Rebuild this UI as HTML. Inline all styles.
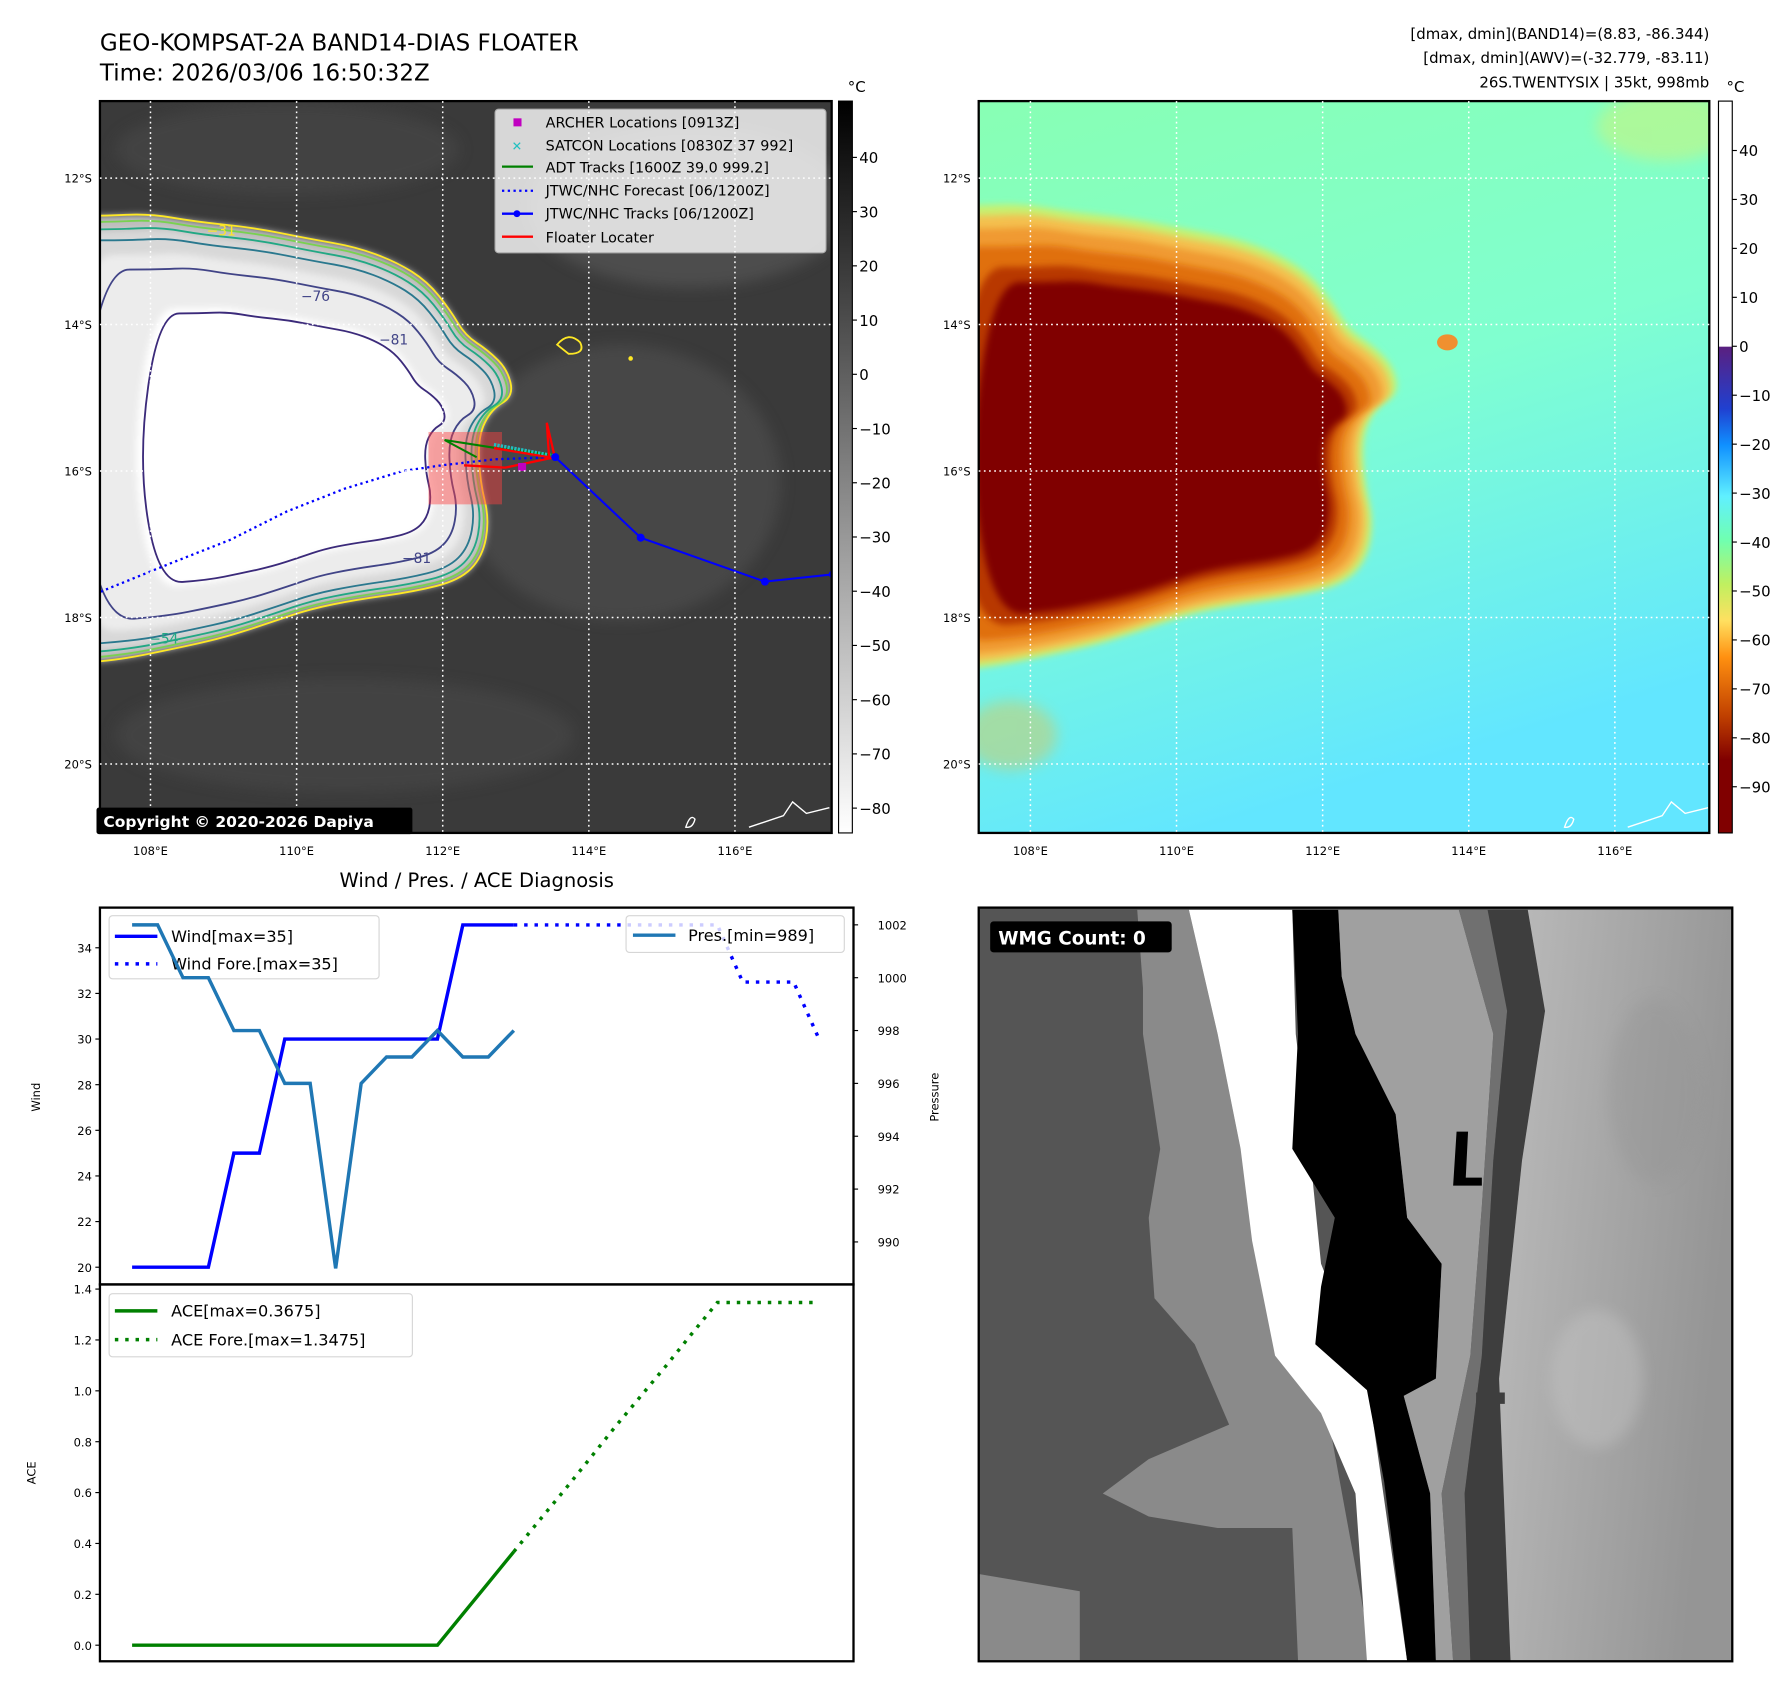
<!DOCTYPE html>
<html><head><meta charset="utf-8">
<style>
html,body{margin:0;padding:0;background:#fff;}
svg{display:block;font-family:"DejaVu Sans","Liberation Sans",sans-serif;}
</style></head>
<body>
<svg id="root" width="1792" height="1690" viewBox="0 0 1560 1471" preserveAspectRatio="none" xmlns="http://www.w3.org/2000/svg">
<defs>
 <filter id="blur3"><feGaussianBlur stdDeviation="6"/></filter>
 <filter id="blur1"><feGaussianBlur stdDeviation="3"/></filter>
 <linearGradient id="gcb" x1="0" y1="0" x2="0" y2="1"><stop offset="0" stop-color="#000"/><stop offset="1" stop-color="#fff"/></linearGradient>
 <linearGradient id="jetcb" x1="0" y1="0" x2="0" y2="1">
  <stop offset="0" stop-color="#fff"/><stop offset="0.335" stop-color="#fff"/>
  <stop offset="0.336" stop-color="#5a2080"/><stop offset="0.42" stop-color="#2040d0"/><stop offset="0.47" stop-color="#1090ff"/>
  <stop offset="0.54" stop-color="#60f0ff"/><stop offset="0.6" stop-color="#70ffb0"/><stop offset="0.66" stop-color="#c0f060"/>
  <stop offset="0.71" stop-color="#ffe060"/><stop offset="0.76" stop-color="#ff9010"/><stop offset="0.84" stop-color="#c04000"/>
  <stop offset="0.9" stop-color="#800000"/><stop offset="1" stop-color="#800000"/></linearGradient>
 <linearGradient id="bg2" x1="0" y1="0" x2="0.3" y2="1"><stop offset="0" stop-color="#88ffb4"/><stop offset="0.5" stop-color="#80ffd0"/><stop offset="1" stop-color="#62e6ff"/></linearGradient>
 <linearGradient id="tex" x1="0" y1="0" x2="1" y2="0.3"><stop offset="0" stop-color="#bcbcbc"/><stop offset="0.5" stop-color="#a8a8a8"/><stop offset="1" stop-color="#959595"/></linearGradient>
 <clipPath id="c1"><rect x="87" y="88" width="637" height="637"/></clipPath>
 <clipPath id="c2"><rect x="852" y="88" width="636" height="637"/></clipPath>
 <clipPath id="c3"><rect x="852" y="790" width="656" height="656"/></clipPath>
</defs>

<text x="87" y="44" font-size="20">GEO-KOMPSAT-2A BAND14-DIAS FLOATER</text>
<text x="87" y="70" font-size="20">Time: 2026/03/06 16:50:32Z</text>
<g font-size="13" text-anchor="end">
 <text x="1488" y="34">[dmax, dmin](BAND14)=(8.83, -86.344)</text>
 <text x="1488" y="55">[dmax, dmin](AWV)=(-32.779, -83.11)</text>
 <text x="1488" y="76">26S.TWENTYSIX | 35kt, 998mb</text>
</g>

<g clip-path="url(#c1)">
 <rect x="87" y="88" width="637" height="637" fill="#3a3a3a"/>
 <g filter="url(#blur3)" opacity="0.5">
  <ellipse cx="600" cy="180" rx="140" ry="70" fill="#606060"/>
  <ellipse cx="540" cy="420" rx="140" ry="120" fill="#555"/>
  <ellipse cx="300" cy="640" rx="200" ry="50" fill="#4c4c4c"/>
  <ellipse cx="250" cy="130" rx="150" ry="40" fill="#4c4c4c"/>
 </g>
 <g id="cloud1"></g>
 <g id="contours1" fill="none" stroke-width="1.6"></g>
 <rect x="373" y="376" width="64" height="63" fill="#ff4040" opacity="0.45"/>
 <g id="tracks1"></g>
 <path d="M597,720 q4,-12 8,-7 q-2,8 -8,7z M652,720 l30,-10 l8,-12 l12,10 l20,-5" fill="none" stroke="#fff" stroke-width="1.2"/>
</g>
<rect x="87" y="88" width="637" height="637" fill="none" stroke="#000" stroke-width="2"/>
<g id="grid1"></g>
<g><rect x="84" y="703" width="275" height="23" fill="#000" rx="2"/><text x="90" y="720" fill="#fff" font-size="13.5" font-weight="bold">Copyright © 2020-2026 Dapiya</text></g>

<g font-size="12.5">
 <rect x="431" y="95" width="288" height="125" fill="#fff" opacity="0.8" stroke="#ccc" rx="3"/>
 <rect x="447" y="103" width="7" height="7" fill="#c000c0"/><text x="475" y="111">ARCHER Locations [0913Z]</text>
 <text x="450" y="131" fill="#20c0c0" text-anchor="middle" font-size="11" font-weight="bold">✕</text><text x="475" y="131">SATCON Locations [0830Z 37 992]</text>
 <line x1="437" y1="145" x2="464" y2="145" stroke="#008000" stroke-width="2"/><text x="475" y="150">ADT Tracks [1600Z 39.0 999.2]</text>
 <line x1="437" y1="166" x2="464" y2="166" stroke="#0000ff" stroke-width="2" stroke-dasharray="2 3"/><text x="475" y="170">JTWC/NHC Forecast [06/1200Z]</text>
 <line x1="437" y1="186" x2="464" y2="186" stroke="#0000ff" stroke-width="2"/><circle cx="450" cy="186" r="3" fill="#0000ff"/><text x="475" y="190">JTWC/NHC Tracks [06/1200Z]</text>
 <line x1="437" y1="206" x2="464" y2="206" stroke="#ff0000" stroke-width="2"/><text x="475" y="211">Floater Locater</text>
</g>

<g>
 <rect x="730" y="88" width="12" height="637" fill="url(#gcb)" stroke="#000" stroke-width="1"/>
 <text x="738" y="80" font-size="13">°C</text>
 <g id="cb1ticks" font-size="13"></g>
</g>

<g clip-path="url(#c2)">
 <rect x="852" y="88" width="636" height="637" fill="url(#bg2)"/>
 <g filter="url(#blur3)" opacity="0.4"><ellipse cx="1450" cy="110" rx="60" ry="30" fill="#e8f060"/><ellipse cx="880" cy="640" rx="40" ry="30" fill="#f0c040"/></g>
 <g id="cloud2"></g>
 <ellipse cx="1260" cy="298" rx="9" ry="7" fill="#f09030"/>
 <path d="M1362,720 q4,-12 8,-7 q-2,8 -8,7z M1417,720 l30,-10 l8,-12 l12,10 l20,-5" fill="none" stroke="#fff" stroke-width="1.2"/>
</g>
<rect x="852" y="88" width="636" height="637" fill="none" stroke="#000" stroke-width="2"/>
<g id="grid2"></g>
<g>
 <rect x="1496" y="88" width="12" height="637" fill="url(#jetcb)" stroke="#000" stroke-width="1"/>
 <text x="1503" y="80" font-size="13">°C</text>
 <g id="cb2ticks" font-size="13"></g>
</g>

<text x="415" y="772" font-size="17" text-anchor="middle">Wind / Pres. / ACE Diagnosis</text>
<g id="chart"></g>

<g clip-path="url(#c3)">
 <rect x="852" y="790" width="656" height="656" fill="#555"/>
 <polygon fill="#8a8a8a" points="852,1370 940,1385 940,1446 852,1446"/>
 <polygon fill="#8a8a8a" points="990,792 1035,792 1060,900 1080,1000 1120,1130 1150,1200 1195,1446 1130,1446 1125,1330 1060,1330 1000,1320 960,1300 1000,1270 1070,1240 1040,1170 1005,1130 1000,1060 1010,1000 995,900 995,860"/>
 <polygon fill="#fff" points="1035,792 1125,792 1128,900 1140,1000 1150,1100 1190,1200 1225,1446 1190,1446 1180,1300 1150,1230 1110,1180 1090,1080 1080,1000 1060,900"/>
 <polygon fill="#000" points="1125,792 1165,792 1168,850 1180,900 1215,970 1225,1060 1255,1100 1250,1200 1222,1215 1245,1300 1250,1446 1225,1446 1205,1290 1190,1210 1145,1170 1150,1120 1162,1060 1125,1000 1130,900"/>
 <polygon fill="#a0a0a0" points="1165,792 1270,792 1300,900 1290,1050 1280,1180 1255,1300 1265,1446 1250,1446 1245,1300 1222,1215 1250,1200 1255,1100 1225,1060 1215,970 1180,900 1168,850"/>
 <polygon fill="#000" points="1268,985 1278,985 1276,1025 1290,1025 1290,1032 1265,1032"/>
 <polygon fill="#707070" points="1270,792 1300,792 1312,880 1300,1010 1290,1180 1275,1300 1280,1446 1265,1446 1255,1300 1280,1180 1290,1050 1300,900"/>
 <polygon fill="#3e3e3e" points="1295,792 1330,792 1345,880 1325,1010 1305,1200 1315,1446 1280,1446 1275,1300 1290,1180 1300,1010 1312,880"/>
 <polygon fill="url(#tex)" points="1330,792 1508,792 1508,1446 1315,1446 1305,1200 1325,1010 1345,880"/>
 <g filter="url(#blur3)" opacity="0.4"><ellipse cx="1390" cy="1200" rx="40" ry="60" fill="#c8c8c8"/><ellipse cx="1440" cy="950" rx="40" ry="80" fill="#959595"/></g>
 <polygon fill="#3e3e3e" points="1285,1212 1310,1212 1310,1222 1285,1222"/>
</g>
<rect x="852" y="790" width="656" height="656" fill="none" stroke="#000" stroke-width="2"/>
<g><rect x="862" y="802" width="158" height="27" rx="3" fill="#000"/><text x="869" y="822" fill="#fff" font-size="16" font-weight="bold">WMG Count: 0</text></g>
</svg>

<script>
// ---------- Chart data ----------
const windValues = [20,20,20,20,25,25,30,30,30,30,30,30,30,35,35,35];
const windForecast = [35,35,35,35,35,35,35,35,35,32.5,32.5,32.5,30];
const pressureValues = [1002,1002,1000,1000,998,998,996,996,989,996,997,997,998,997,997,998];
const aceValues = [0,0,0,0,0,0,0,0,0,0,0,0,0,0.1225,0.245,0.3675];
const aceForecast = [0.3675,0.49,0.61,0.735,0.86,0.98,1.1,1.225,1.3475,1.3475,1.3475,1.3475,1.3475];
const windTicks = [20,22,24,26,28,30,32,34];
const pressureTicks = [990,992,994,996,998,1000,1002];
const aceTicks = [0.0,0.2,0.4,0.6,0.8,1.0,1.2,1.4];
const jtwcTrackLon = [113.54,114.71,116.41,117.34];
const jtwcTrackLat = [15.81,16.91,17.51,17.41];
const jtwcFcstLon = [113.54,112.71,112.0,111.45,110.66,109.87,109.09,108.3,107.31];
const jtwcFcstLat = [15.81,15.84,15.92,16.0,16.24,16.55,16.94,17.25,17.65];
const lonTicks = [108,110,112,114,116];
const latTicks = [12,14,16,18,20];
const cbIrTicks = [40,30,20,10,0,-10,-20,-30,-40,-50,-60,-70,-80];
const cbAwvTicks = [40,30,20,10,0,-10,-20,-30,-40,-50,-60,-70,-80,-90];

const NS='http://www.w3.org/2000/svg';
function mk(tag, attrs, parent, txt){const e=document.createElementNS(NS,tag);for(const k in attrs)e.setAttribute(k,attrs[k]);if(txt!==undefined)e.textContent=txt;parent.appendChild(e);return e;}
const g = id=>document.getElementById(id);

const lonX1 = lon=>131+(lon-108)*63.6;
const lonX2 = lon=>897+(lon-108)*63.6;
const latY = lat=>155+(lat-12)*63.75;

function grid(gid,x0,x1,lonX){
 const G=g(gid);
 lonTicks.forEach(l=>{const x=lonX(l);
  const ln=mk('line',{x1:x,y1:88,x2:x,y2:725,stroke:'#fff','stroke-width':1.3,'stroke-dasharray':'1.5 3'},G);
  
  const t=mk('text',{x:x,y:744,'font-size':10,'text-anchor':'middle'},G,l+'°E');
  });
 latTicks.forEach(l=>{const y=latY(l);
  const ln=mk('line',{x1:x0,y1:y,x2:x1,y2:y,stroke:'#fff','stroke-width':1.3,'stroke-dasharray':'1.5 3'},G);
  
  const t=mk('text',{x:x0-7,y:y+4,'font-size':10,'text-anchor':'end'},G,l+'°S');
  });
}
grid('grid1',87,724,lonX1);grid('grid2',852,1488,lonX2);

cbIrTicks.forEach(v=>{const y=137+(40-v)*4.72;const G=g('cb1ticks');
 mk('line',{x1:742,y1:y,x2:746,y2:y,stroke:'#000'},G);
 const t=mk('text',{x:748,y:y+5},G,v<0?'−'+(-v):String(v));
 });
cbAwvTicks.forEach(v=>{const y=131+(40-v)*4.26;const G=g('cb2ticks');
 mk('line',{x1:1508,y1:y,x2:1512,y2:y,stroke:'#000'},G);
 const t=mk('text',{x:1514,y:y+5},G,v<0?'−'+(-v):String(v));
 });

const outline=[[30,188],[90,188],[130,186],[170,193],[220,198],[270,208],[310,215],[345,228],[372,245],[392,270],[405,292],[425,305],[442,322],[447,345],[428,356],[416,380],[418,420],[426,452],[420,485],[400,505],[360,515],[310,522],[270,530],[235,542],[195,555],[150,565],[100,575],[30,580],[0,400]];
function shape(s,cx,cy,dx){
 const p=outline.map(q=>[cx+(q[0]-cx)*s+dx,cy+(q[1]-cy)*s]);
 const n=p.length;const mid=(a,b)=>[(a[0]+b[0])/2,(a[1]+b[1])/2];
 const m=mid(p[n-1],p[0]);let d='M'+m[0].toFixed(1)+','+m[1].toFixed(1);
 for(let i=0;i<n;i++){const c=p[i],nx=mid(p[i],p[(i+1)%n]);d+=' Q'+c[0].toFixed(1)+','+c[1].toFixed(1)+' '+nx[0].toFixed(1)+','+nx[1].toFixed(1);}
 return d+'Z';}
const c1=g('cloud1');
[[1.0,'#bdbdbd'],[0.94,'#d8d8d8'],[0.84,'#ececec'],[0.62,'#ffffff']].forEach(([s,c])=>{
 mk('path',{d:shape(s,300,400,0),fill:c,filter:'url(#blur1)'},c1);});
const cont=g('contours1');
[[1.0,'#fde725'],[0.975,'#7ad151'],[0.945,'#22a884'],[0.9,'#2a788e'],[0.78,'#414487'],[0.6,'#3b2a7a']].forEach(([s,c])=>{
 const p=mk('path',{d:shape(s,300,400,0),stroke:c},cont);
 });
[[180,205,'−31','#fde725'],[130,560,'−54','#22a884'],[262,262,'−76','#414487'],[330,300,'−81','#414487'],[350,490,'−81','#414487']].forEach(a=>{
 mk('text',{x:a[0],y:a[1],'font-size':12,fill:a[3]},cont,a[2]);});
mk('path',{d:'M485,300 q10,-12 20,-2 q5,10 -10,10 z',fill:'none',stroke:'#fde725','stroke-width':1.6},cont);
mk('circle',{cx:549,cy:312,r:2,fill:'#fde725'},cont);
const c2=g('cloud2');
[[1.04,'#c8f070'],[1.0,'#f4c050'],[0.95,'#f09a30'],[0.88,'#e07010'],[0.8,'#b83800'],[0.74,'#800000']].forEach(([s,c])=>{
 mk('path',{d:shape(s,300,410,765),fill:c,filter:'url(#blur1)'},c2);});

const tr=g('tracks1');
const fp=mk('polyline',{points:jtwcFcstLon.map((l,i)=>lonX1(l)+','+latY(jtwcFcstLat[i])).join(' '),fill:'none',stroke:'#0000ff','stroke-width':2,'stroke-dasharray':'2 3'},tr);

mk('polyline',{points:'387,383 432,390 483,396',fill:'none',stroke:'#008000','stroke-width':1.8},tr);
mk('polyline',{points:'430,387 483,397',fill:'none',stroke:'#20c0c0','stroke-width':3,'stroke-dasharray':'2 1'},tr);
mk('polyline',{points:'404,405 440,407 483,398 476,368 478,398 430,390',fill:'none',stroke:'#ff0000','stroke-width':2},tr);
mk('polyline',{points:'387,383 415,398',fill:'none',stroke:'#008000','stroke-width':1.8},tr);
mk('rect',{x:451,y:403,width:7,height:7,fill:'#c000c0'},tr);
const tp=mk('polyline',{points:jtwcTrackLon.map((l,i)=>lonX1(l)+','+latY(jtwcTrackLat[i])).join(' '),fill:'none',stroke:'#0000ff','stroke-width':1.8},tr);

jtwcTrackLon.forEach((l,i)=>{const c=mk('circle',{cx:lonX1(l),cy:latY(jtwcTrackLat[i]),r:3.5,fill:'#0000ff'},tr);
 });

// ---------- diagnosis chart ----------
const C=g('chart');
const xOf=i=>115+i*22.15;
const yWind=v=>1103-(v-20)*19.86;
const yPres=p=>805+(1002-p)*23;
const yAce=a=>1432-a*221.4;
function line(vals,off,fy,color,w,dash,name){
 const pts=vals.map((v,i)=>xOf(i+off).toFixed(1)+','+fy(v).toFixed(1)).join(' ');
 const p=mk('polyline',{points:pts,fill:'none',stroke:color,'stroke-width':w},C);
 if(dash)p.setAttribute('stroke-dasharray',dash);
 
 
}
mk('rect',{x:87,y:790,width:656,height:328,fill:'#fff'},C);
mk('rect',{x:87,y:1118,width:656,height:328,fill:'#fff'},C);
windTicks.forEach(v=>{const y=yWind(v);mk('line',{x1:83,y1:y,x2:87,y2:y,stroke:'#000'},C);
 const t=mk('text',{x:80,y:y+4,'font-size':10,'text-anchor':'end'},C,String(v));
 });
pressureTicks.forEach(v=>{const y=yPres(v);mk('line',{x1:743,y1:y,x2:747,y2:y,stroke:'#000'},C);
 const t=mk('text',{x:764,y:y+4,'font-size':10},C,String(v));
 });
aceTicks.forEach(v=>{const y=yAce(v);mk('line',{x1:83,y1:y,x2:87,y2:y,stroke:'#000'},C);
 const t=mk('text',{x:80,y:y+4,'font-size':10,'text-anchor':'end'},C,v.toFixed(1));
 });
const wl=mk('text',{x:35,y:955,'font-size':10,'text-anchor':'middle',transform:'rotate(-90 35 955)'},C,'Wind');

const pl=mk('text',{x:817,y:955,'font-size':10,'text-anchor':'middle',transform:'rotate(-90 817 955)'},C,'Pressure');

const al=mk('text',{x:31,y:1282,'font-size':10,'text-anchor':'middle',transform:'rotate(-90 31 1282)'},C,'ACE');


line(windValues,0,yWind,'#0000ff',3,null,'wind-line');
line(windForecast,windValues.length-1,yWind,'#0000ff',3,'3 6','wind-forecast-line');
mk('rect',{x:95,y:797,width:235,height:55,fill:'#fff',opacity:0.8,stroke:'#ccc',rx:3},C);
mk('line',{x1:100,y1:815,x2:137,y2:815,stroke:'#0000ff','stroke-width':3},C);
mk('line',{x1:100,y1:839,x2:137,y2:839,stroke:'#0000ff','stroke-width':3,'stroke-dasharray':'3 6'},C);
mk('text',{x:149,y:820,'font-size':14},C,'Wind[max=35]');
mk('text',{x:149,y:844,'font-size':14},C,'Wind Fore.[max=35]');
line(pressureValues,0,yPres,'#1f77b4',3,null,'pressure-line');
mk('rect',{x:545,y:797,width:190,height:32,fill:'#fff',opacity:0.8,stroke:'#ccc',rx:3},C);
mk('line',{x1:551,y1:814,x2:588,y2:814,stroke:'#1f77b4','stroke-width':3},C);
mk('text',{x:599,y:819,'font-size':14},C,'Pres.[min=989]');

line(aceValues,0,yAce,'#008000',3,null,'ace-line');
line(aceForecast,aceValues.length-1,yAce,'#008000',3,'3 6','ace-forecast-line');
mk('rect',{x:95,y:1126,width:264,height:55,fill:'#fff',opacity:0.8,stroke:'#ccc',rx:3},C);
mk('line',{x1:100,y1:1141,x2:137,y2:1141,stroke:'#008000','stroke-width':3},C);
mk('line',{x1:100,y1:1166,x2:137,y2:1166,stroke:'#008000','stroke-width':3,'stroke-dasharray':'3 6'},C);
mk('text',{x:149,y:1146,'font-size':14},C,'ACE[max=0.3675]');
mk('text',{x:149,y:1171,'font-size':14},C,'ACE Fore.[max=1.3475]');
mk('rect',{x:87,y:790,width:656,height:328,fill:'none',stroke:'#000','stroke-width':2},C);
mk('rect',{x:87,y:1118,width:656,height:328,fill:'none',stroke:'#000','stroke-width':2},C);
</script>
</body></html>
